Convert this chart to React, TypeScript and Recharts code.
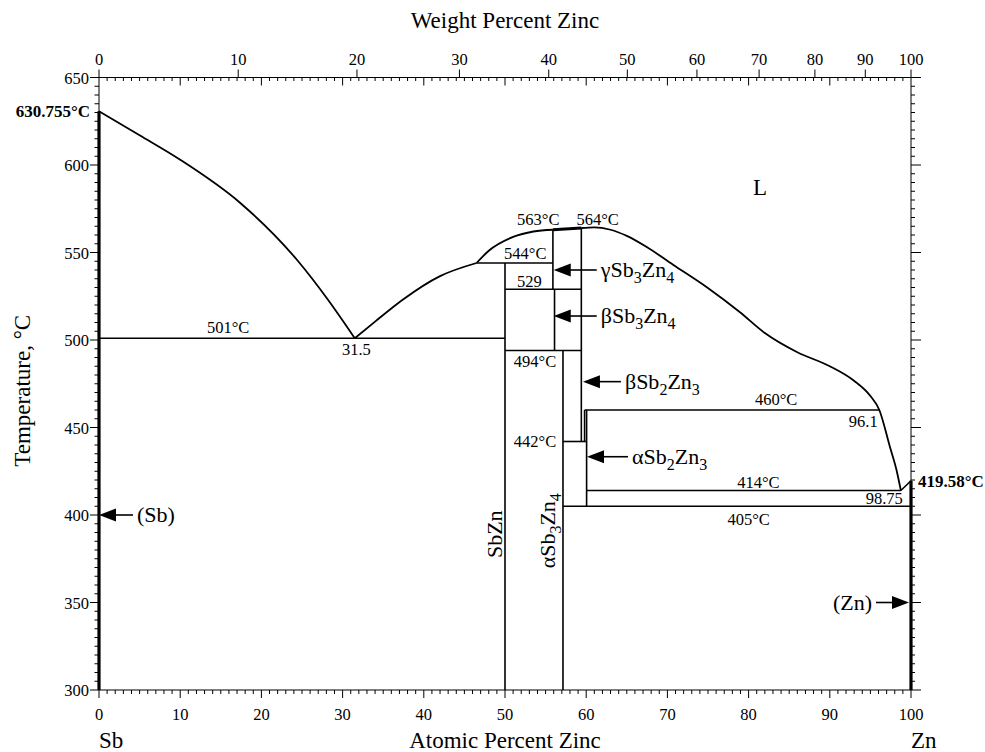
import React from "react";
import { ComposedChart, Line, XAxis, YAxis, ReferenceDot } from "recharts";

const FONT = "'Liberation Serif', 'Times New Roman', serif";
const ZN_MASS = 65.38;
const SB_MASS = 121.76;

// axis ticks
const atomicLabels = [0, 10, 20, 30, 40, 50, 60, 70, 80, 90, 100];
const weightLabels = [0, 10, 20, 30, 40, 50, 60, 70, 80, 90, 100];
const tempLabels = [300, 350, 400, 450, 500, 550, 600, 650];

// liquidus branches (at.% Zn, °C)
const liqSb = [
  { x: 0, t: 630.755 }, { x: 5, t: 617 }, { x: 10, t: 603 }, { x: 17.4, t: 578.3 },
  { x: 24.4, t: 545.7 }, { x: 28.2, t: 523 }, { x: 31.5, t: 501 },
];
const liqEut = [
  { x: 31.5, t: 501 }, { x: 34, t: 510.5 }, { x: 37.4, t: 523 }, { x: 42, t: 536.5 }, { x: 46.5, t: 544 },
];
const liqGamma = [
  { x: 46.5, t: 544 }, { x: 48, t: 551 }, { x: 51, t: 558.9 }, { x: 53.5, t: 562 }, { x: 55.9, t: 563 },
];
const liqZn = [
  { x: 59.4, t: 564 }, { x: 61, t: 564.4 }, { x: 63, t: 563 }, { x: 65, t: 559.5 }, { x: 67.5, t: 553 },
  { x: 70.7, t: 543 }, { x: 74.9, t: 530 }, { x: 78.9, t: 516 }, { x: 82, t: 504 }, { x: 86, t: 493 },
  { x: 90, t: 485 }, { x: 92.9, t: 477 }, { x: 95, t: 468 }, { x: 96.1, t: 460 }, { x: 97.4, t: 439 },
  { x: 98.2, t: 426 }, { x: 98.75, t: 414 },
];

// straight boundaries [x1, t1, x2, t2]
const boundaries = [
  [0, 501, 50, 501],
  [50, 300, 50, 544],
  [46.5, 544, 55.9, 544],
  [55.9, 563, 55.9, 529],
  [50, 529, 59.4, 529],
  [56.1, 529, 56.1, 494],
  [50, 494, 59.4, 494],
  [57.14, 494, 57.14, 300],
  [59.4, 564, 59.4, 442],
  [57.14, 442, 60.05, 442],
  [59.8, 460, 59.8, 442],
  [60.05, 460, 60.05, 405],
  [59.8, 460, 96.1, 460],
  [60.05, 414, 98.75, 414],
  [57.14, 405, 100, 405],
  [98.75, 414, 100, 419.58],
];
const thickBoundaries = [
  [0, 300, 0, 630.755],
  [100, 300, 100, 419.58],
  [55.9, 563, 59.4, 564],
];

// text annotations
const notes = [
  { text: "501°C", x: 15.9, t: 504 },
  { text: "31.5", x: 31.7, t: 491.4 },
  { text: "563°C", x: 54.1, t: 565.7 },
  { text: "564°C", x: 61.4, t: 565.7 },
  { text: "544°C", x: 52.5, t: 546.3 },
  { text: "529", x: 53.0, t: 530.5 },
  { text: "494°C", x: 53.7, t: 484.6 },
  { text: "442°C", x: 53.7, t: 439 },
  { text: "460°C", x: 83.4, t: 462.9 },
  { text: "96.1", x: 95.9, t: 450.1, anchor: "end" },
  { text: "414°C", x: 81.2, t: 415.3 },
  { text: "98.75", x: 96.7, t: 406.3 },
  { text: "405°C", x: 80, t: 394.3 },
];

// arrowed phase labels: text (with _ for subscripts), tip x, t, arrow length
const arrows = [
  { text: "γSb_3Zn_4", x: 56.0, t: 540, len: 43 },
  { text: "βSb_3Zn_4", x: 56.0, t: 513.7, len: 43 },
  { text: "βSb_2Zn_3", x: 59.6, t: 476.2, len: 38 },
  { text: "αSb_2Zn_3", x: 60.1, t: 433.3, len: 41 },
  { text: "(Sb)", x: 0, t: 400, len: 34 },
];

const toAtomic = (w: number) => {
  const zn = w / ZN_MASS;
  const sb = (100 - w) / SB_MASS;
  return (zn / (zn + sb)) * 100;
};

const range = (a: number, b: number, s: number) => {
  const out: number[] = [];
  for (let v = a; v <= b + 1e-9; v += s) out.push(v);
  return out;
};

const bottomTicks = range(0, 100, 1);
const weightPos = weightLabels.map(toAtomic);
const topTicks = [...range(1, 99, 1), ...weightPos];
const tempTicks = range(300, 650, 5);

const BottomTick = (p: any) => {
  const v = p.payload.value;
  const major = atomicLabels.includes(v);
  return (
    <g>
      <line x1={p.x} x2={p.x} y1={p.y} y2={p.y + (major ? 8 : 4)} stroke="#000" />
      {major && (
        <text x={p.x} y={p.y + 30} textAnchor="middle" fontFamily={FONT} fontSize={16.5} fill="#000">
          {v}
        </text>
      )}
    </g>
  );
};

const TopTick = (p: any) => {
  const v = p.payload.value;
  const wi = weightPos.findIndex((w) => Math.abs(w - v) < 1e-9);
  if (wi >= 0) {
    return (
      <g>
        <line x1={p.x} x2={p.x} y1={p.y} y2={p.y - 8} stroke="#000" />
        <text x={p.x} y={p.y - 12.5} textAnchor="middle" fontFamily={FONT} fontSize={16.5} fill="#000">
          {weightLabels[wi]}
        </text>
      </g>
    );
  }
  const major = v % 10 === 0;
  return <line x1={p.x} x2={p.x} y1={p.y} y2={p.y + (major ? 8 : 3.5)} stroke="#000" />;
};

const LeftTick = (p: any) => {
  const v = p.payload.value;
  const major = tempLabels.includes(v);
  return (
    <g>
      <line x1={p.x} x2={p.x - (major ? 9 : 4.5)} y1={p.y} y2={p.y} stroke="#000" />
      {major && (
        <text x={p.x - 10} y={p.y + 6} textAnchor="end" fontFamily={FONT} fontSize={16.5} fill="#000">
          {v}
        </text>
      )}
    </g>
  );
};

const RightTick = (p: any) => {
  const major = tempLabels.includes(p.payload.value);
  return <line x1={p.x} x2={p.x + (major ? 10 : 4)} y1={p.y} y2={p.y} stroke="#000" />;
};

const Formula = ({ text }: { text: string }) => {
  const parts = text.split(/(_\d)/).filter(Boolean);
  let low = false;
  return (
    <>
      {parts.map((s, i) => {
        if (s.startsWith("_")) {
          const el = (
            <tspan key={i} dy={low ? 0 : 6} fontSize={16}>
              {s.slice(1)}
            </tspan>
          );
          low = true;
          return el;
        }
        const el = (
          <tspan key={i} dy={low ? -6 : 0}>
            {s}
          </tspan>
        );
        low = false;
        return el;
      })}
    </>
  );
};

const seg = (s: number[]) => [
  { x: s[0], t: s[1] },
  { x: s[2], t: s[3] },
];

const ax = { xAxisId: "bottom", yAxisId: "left" };
const ax2 = { xAxisId: "top", yAxisId: "right" };

export default function App() {
  return (
    <div style={{ position: "absolute", left: 0, top: 0, width: 985, height: 752 }}>
      <ComposedChart width={985} height={752} margin={{ top: 37.5, right: 64, bottom: 22, left: 19 }}>
        <XAxis
          xAxisId="bottom"
          type="number"
          dataKey="x"
          domain={[0, 100]}
          ticks={bottomTicks}
          interval={0}
          tickSize={0}
          tickMargin={0}
          tickLine={false}
          tick={<BottomTick />}
          height={40}
          axisLine={{ stroke: "#000" }}
        />
        <XAxis
          xAxisId="top"
          orientation="top"
          type="number"
          dataKey="x"
          domain={[0, 100]}
          ticks={topTicks}
          interval={0}
          tickSize={0}
          tickMargin={0}
          tickLine={false}
          tick={<TopTick />}
          height={40}
          axisLine={{ stroke: "#000" }}
        />
        <YAxis
          yAxisId="left"
          type="number"
          dataKey="t"
          domain={[300, 650]}
          ticks={tempTicks}
          interval={0}
          tickSize={0}
          tickMargin={0}
          tickLine={false}
          tick={<LeftTick />}
          width={80}
          axisLine={{ stroke: "#000" }}
        />
        <YAxis
          yAxisId="right"
          orientation="right"
          type="number"
          dataKey="t"
          domain={[300, 650]}
          ticks={tempTicks}
          interval={0}
          tickSize={0}
          tickMargin={0}
          tickLine={false}
          tick={<RightTick />}
          width={10}
          axisLine={{ stroke: "#000" }}
        />

        {[liqSb, liqEut, liqGamma, liqZn].map((d, i) => (
          <Line key={"liq" + i} {...ax} data={d} dataKey="t" type="monotone" stroke="#000" strokeWidth={1.8}
            dot={false} isAnimationActive={false} />
        ))}
        {boundaries.map((s, i) => (
          <Line key={"b" + i} {...ax} data={seg(s)} dataKey="t" type="linear" stroke="#000" strokeWidth={1.6}
            dot={false} isAnimationActive={false} />
        ))}
        {thickBoundaries.map((s, i) => (
          <Line key={"tb" + i} {...ax2} data={seg(s)} dataKey="t" type="linear" stroke="#000" strokeWidth={3.2}
            dot={false} isAnimationActive={false} />
        ))}

        {notes.map((n, i) => (
          <ReferenceDot key={"n" + i} {...ax} x={n.x} y={n.t} r={0}
            shape={(p: any) => (
              <text x={p.cx} y={p.cy} textAnchor={n.anchor || "middle"} fontFamily={FONT} fontSize={16.5} fill="#000">
                {n.text}
              </text>
            )} />
        ))}

        {arrows.map((a, i) => (
          <ReferenceDot key={"a" + i} {...ax} x={a.x} y={a.t} r={0}
            shape={(p: any) => (
              <g>
                <path d={`M${p.cx},${p.cy} L${p.cx + 17},${p.cy - 6.5} L${p.cx + 17},${p.cy + 6.5} Z`} fill="#000" />
                <line x1={p.cx + 15} x2={p.cx + a.len} y1={p.cy} y2={p.cy} stroke="#000" strokeWidth={1.6} />
                <text x={p.cx + a.len + 4} y={p.cy + 7} fontFamily={FONT} fontSize={22} fill="#000">
                  <Formula text={a.text} />
                </text>
              </g>
            )} />
        ))}

        <ReferenceDot {...ax} x={100} y={350} r={0}
          shape={(p: any) => (
            <g>
              <path d={`M${p.cx - 2},${p.cy} L${p.cx - 19},${p.cy - 6.5} L${p.cx - 19},${p.cy + 6.5} Z`} fill="#000" />
              <line x1={p.cx - 35} x2={p.cx - 17} y1={p.cy} y2={p.cy} stroke="#000" strokeWidth={1.6} />
              <text x={p.cx - 39} y={p.cy + 7} textAnchor="end" fontFamily={FONT} fontSize={22} fill="#000">(Zn)</text>
            </g>
          )} />

        <ReferenceDot {...ax} x={0} y={630.755} r={0}
          shape={(p: any) => (
            <text x={p.cx - 9} y={p.cy + 6} textAnchor="end" fontFamily={FONT} fontSize={17} fontWeight="bold" fill="#000">
              630.755°C
            </text>
          )} />
        <ReferenceDot {...ax} x={100} y={419.58} r={0}
          shape={(p: any) => (
            <text x={p.cx + 7} y={p.cy + 6} fontFamily={FONT} fontSize={17} fontWeight="bold" fill="#000">
              419.58°C
            </text>
          )} />

        <ReferenceDot {...ax} x={81.4} y={582.9} r={0}
          shape={(p: any) => (
            <text x={p.cx} y={p.cy} textAnchor="middle" fontFamily={FONT} fontSize={23} fill="#000">L</text>
          )} />

        <ReferenceDot {...ax} x={50} y={389} r={0}
          shape={(p: any) => (
            <text x={p.cx - 3} y={p.cy} textAnchor="middle" transform={`rotate(-90 ${p.cx - 3} ${p.cy})`}
              fontFamily={FONT} fontSize={22} fill="#000">SbZn</text>
          )} />
        <ReferenceDot {...ax} x={57.14} y={391} r={0}
          shape={(p: any) => (
            <text x={p.cx - 8} y={p.cy} textAnchor="middle" transform={`rotate(-90 ${p.cx - 8} ${p.cy})`}
              fontFamily={FONT} fontSize={22} fill="#000">
              <Formula text="αSb_3Zn_4" />
            </text>
          )} />

        <ReferenceDot {...ax} x={0} y={471} r={0}
          shape={(p: any) => (
            <text x={p.cx - 69} y={p.cy} textAnchor="middle" transform={`rotate(-90 ${p.cx - 69} ${p.cy})`}
              fontFamily={FONT} fontSize={23} fill="#000">Temperature,  °C</text>
          )} />
        <ReferenceDot {...ax} x={50} y={650} r={0}
          shape={(p: any) => (
            <text x={p.cx} y={p.cy - 49.5} textAnchor="middle" fontFamily={FONT} fontSize={23} fill="#000">
              Weight Percent Zinc
            </text>
          )} />
        <ReferenceDot {...ax} x={50} y={300} r={0}
          shape={(p: any) => (
            <text x={p.cx} y={p.cy + 58} textAnchor="middle" fontFamily={FONT} fontSize={23} fill="#000">
              Atomic Percent Zinc
            </text>
          )} />
        <ReferenceDot {...ax} x={0} y={300} r={0}
          shape={(p: any) => (
            <text x={p.cx} y={p.cy + 58} fontFamily={FONT} fontSize={23} fill="#000">Sb</text>
          )} />
        <ReferenceDot {...ax} x={100} y={300} r={0}
          shape={(p: any) => (
            <text x={p.cx} y={p.cy + 58} fontFamily={FONT} fontSize={23} fill="#000">Zn</text>
          )} />
      </ComposedChart>
    </div>
  );
}
